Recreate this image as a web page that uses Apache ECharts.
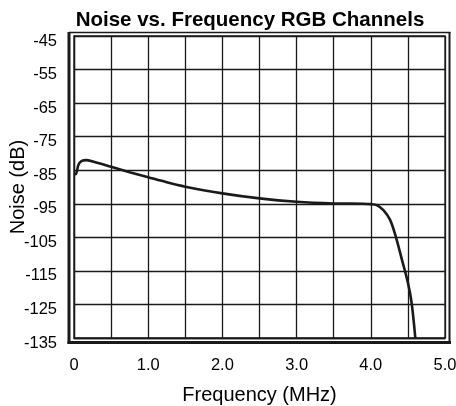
<!DOCTYPE html>
<html><head><meta charset="utf-8">
<script src="https://cdn.jsdelivr.net/npm/echarts@6/dist/echarts.min.js"></script>
<style>html,body{margin:0;padding:0;background:#fff}#c{width:456px;height:406px}</style>
</head><body><div id="c"></div>
<script>
const freqMHz = [0.01, 0.025, 0.06, 0.1, 0.17, 0.3, 0.5, 0.75, 1.0, 1.25, 1.5, 2.0, 2.5, 3.0, 3.5, 3.9, 4.0, 4.08, 4.17, 4.26, 4.33, 4.42, 4.5, 4.55, 4.6];
const noiseDb = [-85.9, -86.2, -83.4, -82.3, -82.0, -82.7, -84.0, -85.6, -87.1, -88.6, -89.9, -91.9, -93.4, -94.4, -94.9, -95.0, -95.1, -95.4, -96.9, -99.8, -104.3, -111.7, -118.5, -124.5, -135];
const yTicks = [-135, -125, -115, -105, -95, -85, -75, -65, -55, -45];
const xLabels = ['0', '1.0', '2.0', '3.0', '4.0', '5.0'];

const chart = echarts.init(document.getElementById('c'));
const font = 'Liberation Sans, Arial, Helvetica, sans-serif';
const narrow = 'Liberation Sans Narrow, Arial Narrow, Liberation Sans, sans-serif';
const ink = '#1a1a1a';
chart.setOption({
  backgroundColor: '#fff',
  animation: false,
  title: {
    text: 'Noise vs. Frequency RGB Channels',
    left: 245, textAlign: 'center', top: 5,
    textStyle: { fontFamily: font, fontWeight: 'bold', fontSize: 20.5, color: '#000' }
  },
  grid: { left: 74, right: 11, top: 36, bottom: 68, show: true, borderColor: ink, borderWidth: 1.3,
    backgroundColor: 'transparent', containLabel: false, outerBoundsMode: 'none' },
  xAxis: {
    type: 'value', min: 0, max: 5, interval: 0.5,
    name: 'Frequency (MHz)', nameLocation: 'middle', nameGap: 47, nameMoveOverlap: false,
    nameTextStyle: { fontFamily: font, fontSize: 20, color: '#000' },
    axisLine: { show: true, lineStyle: { color: ink, width: 1.3 } },
    axisTick: { show: false },
    splitLine: { show: true, lineStyle: { color: ink, width: 1.3 } },
    axisLabel: {
      fontFamily: narrow, fontSize: 16.5, color: '#000', margin: 19,
      formatter: v => { const i = Math.round(v * 2); return i % 2 === 0 ? xLabels[i / 2] : ''; }
    }
  },
  yAxis: {
    type: 'value', min: yTicks[0], max: yTicks[yTicks.length - 1], interval: 10,
    name: 'Noise (dB)', nameLocation: 'middle', nameGap: 46, nameRotate: 90, nameMoveOverlap: false,
    nameTextStyle: { fontFamily: font, fontSize: 20, color: '#000' },
    axisLine: { show: true, lineStyle: { color: ink, width: 1.3 } },
    axisTick: { show: false },
    splitLine: { show: true, lineStyle: { color: ink, width: 1.3 } },
    axisLabel: { fontFamily: narrow, fontSize: 16.5, color: '#000', margin: 17,
      verticalAlign: 'top', lineHeight: 10, showMinLabel: true, showMaxLabel: true }
  },
  graphic: [
    { type: 'line', shape: { x1: 69, y1: 32, x2: 69, y2: 344 }, style: { stroke: ink, lineWidth: 3 } },
    { type: 'line', shape: { x1: 67.5, y1: 342.5, x2: 451, y2: 342.5 }, style: { stroke: ink, lineWidth: 3 } },
    { type: 'line', shape: { x1: 69, y1: 32.5, x2: 450.5, y2: 32.5 }, style: { stroke: ink, lineWidth: 1.5 } },
    { type: 'line', shape: { x1: 449.5, y1: 32, x2: 449.5, y2: 344 }, style: { stroke: ink, lineWidth: 2 } }
  ],
  series: [{
    type: 'line', data: freqMHz.map((f, i) => [f, noiseDb[i]]),
    showSymbol: false, smooth: 0.3,
    lineStyle: { color: ink, width: 2.6 }, clip: false
  }]
});
</script></body></html>
